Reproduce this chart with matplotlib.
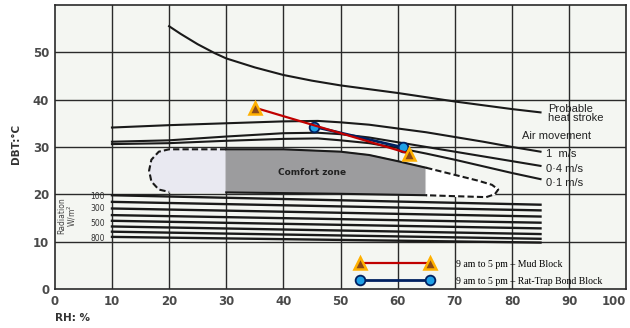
import numpy as np
import matplotlib.pyplot as plt

# axis ticks
rh_ticks = [0, 10, 20, 30, 40, 50, 60, 70, 80, 90, 100]
dbt_ticks = [0, 10, 20, 30, 40, 50]

# probable heat stroke curve
heat_rh = [20, 22, 25, 28, 30, 35, 40, 45, 50, 60, 70, 80, 85]
heat_dbt = [55.5, 53.9, 51.7, 49.8, 48.7, 46.8, 45.2, 44.0, 43.0, 41.4, 39.6, 38.0, 37.3]

# air movement curves (RH, DBT)
air_rh = [10, 20, 30, 40, 46, 50, 55, 60, 65, 70, 75, 80, 85]
air_1 = [34.1, 34.6, 35.0, 35.4, 35.5, 35.2, 34.7, 33.9, 33.1, 32.1, 31.1, 30.0, 29.0]
air_04 = [31.1, 31.4, 32.2, 32.9, 33.0, 32.7, 32.0, 31.0, 30.0, 29.0, 28.0, 27.0, 26.0]
air_01 = [30.6, 30.8, 31.3, 31.7, 31.8, 31.4, 30.8, 29.8, 28.6, 27.3, 25.9, 24.5, 23.2]

# radiation lines (W/m2), DBT at RH 10 and RH 85
rad_rh = [10, 85]
rad_left = [19.8, 18.4, 17.0, 15.6, 14.4, 13.2, 12.1, 11.0]
rad_right = [17.8, 16.6, 15.3, 14.0, 12.8, 11.6, 10.6, 9.8]
rad_labels = ["100", "300", "500", "800"]
rad_label_dbt = [19.6, 16.9, 13.9, 10.7]

# comfort zone outline
cz_left_rh = [30, 20, 18.2, 16.9, 16.5, 16.9, 18.2, 20, 30]
cz_left_dbt = [29.5, 29.5, 29.0, 27.3, 25.0, 22.7, 21.0, 20.5, 20.4]
cz_mid_rh = [30, 40, 50, 55, 60, 65, 65, 50, 30]
cz_mid_dbt = [29.5, 29.5, 29.0, 28.3, 27.0, 25.6, 19.8, 20.1, 20.4]
cz_tail_rh = [65, 70, 74, 76.5, 77.6, 77.0, 75.5, 70, 65]
cz_tail_dbt = [25.6, 24.1, 22.9, 22.0, 21.0, 20.0, 19.4, 19.6, 19.8]

# measured points
mud_rh = [35.0, 62.0]
mud_dbt = [38.3, 28.6]
rat_rh = [45.3, 60.9]
rat_dbt = [34.3, 29.9]

fig = plt.figure(figsize=(6.3, 3.28), dpi=100)
ax = fig.add_axes([0.087, 0.119, 0.907, 0.866])
ax.set_facecolor("#f4f6f2")
ax.set_xlim(0, 100)
ax.set_ylim(0, 60)

for x in rh_ticks[1:-1]:
    ax.axvline(x, color="#2a2a2a", lw=1.0, zorder=1)
for y in dbt_ticks[1:]:
    ax.axhline(y, color="#2a2a2a", lw=1.0, zorder=1)
for s in ax.spines.values():
    s.set_color("#2a2a2a")
    s.set_linewidth(1.2)

# comfort zone
ax.fill(cz_left_rh, cz_left_dbt, color="#e9e9f1", zorder=2)
ax.fill(cz_mid_rh, cz_mid_dbt, color="#9c9c9e", zorder=2)
ax.fill(cz_tail_rh, cz_tail_dbt, color="#ffffff", zorder=2)
ax.plot(cz_left_rh[:-1], cz_left_dbt[:-1], color="#1a1a1a", lw=1.5, ls=(0, (3, 1.5)), zorder=3)
ax.plot(cz_mid_rh[:6], cz_mid_dbt[:6], color="#1a1a1a", lw=1.5, zorder=3)
ax.plot(cz_mid_rh[6:], cz_mid_dbt[6:], color="#1a1a1a", lw=1.5, zorder=3)
ax.plot(cz_tail_rh, cz_tail_dbt, color="#1a1a1a", lw=1.5, ls=(0, (3, 1.5)), zorder=3)
ax.text(45, 24.5, "Comfort zone", fontsize=6.5, fontweight="bold", color="#222",
        ha="center", va="center", zorder=4)

# curves
ax.plot(heat_rh, heat_dbt, color="#1a1a1a", lw=1.5, zorder=3)
for ys in (air_1, air_04, air_01):
    ax.plot(air_rh, ys, color="#1a1a1a", lw=1.5, zorder=3)

for yl, yr in zip(rad_left, rad_right):
    ax.plot(rad_rh, [yl, yr], color="#1a1a1a", lw=1.7, zorder=3)
for lab, y in zip(rad_labels, rad_label_dbt):
    ax.text(7.5, y, lab, fontsize=5.5, color="#333", ha="center", va="center")
ax.text(2.2, 15.5, "Radiation\nW/m$^2$", fontsize=5.5, color="#444", rotation=90,
        ha="center", va="center", linespacing=0.9)

txt = dict(fontsize=8, color="#222", fontfamily="Liberation Sans")
ax.text(86.3, 37.0, "Probable\nheat stroke", va="center", linespacing=0.85, **txt)
ax.text(81.8, 32.4, "Air movement", va="center", **txt)
ax.text(86.0, 28.5, "1  m/s", va="center", **txt)
ax.text(86.0, 25.4, "0·4 m/s", va="center", **txt)
ax.text(86.0, 22.3, "0·1 m/s", va="center", **txt)

# measurements
rat, = ax.plot(rat_rh, rat_dbt, color="#002060", lw=2, marker="o", ms=7,
               mfc="#1ea0e6", mec="#002060", mew=1.3, zorder=5,
               label="9 am to 5 pm \u2013 Rat-Trap Bond Block")
mud, = ax.plot(mud_rh, mud_dbt, color="#c00000", lw=1.6, marker="^", ms=8,
               mfc="#8b4a1a", mec="#ffb000", mew=1.8, zorder=6,
               label="9 am to 5 pm \u2013 Mud Block")

ax.legend(handles=[mud, rat], loc="lower left", bbox_to_anchor=(0.514, -0.02),
          numpoints=2, handlelength=7.75, handletextpad=2.36, frameon=False,
          prop={"family": "Liberation Serif", "size": 7}, labelspacing=0.85)

ax.set_xticks(rh_ticks)
ax.set_yticks(dbt_ticks)
ax.tick_params(length=0, labelsize=8.5, colors="#4a4a4a", pad=4)
for lab in ax.get_xticklabels() + ax.get_yticklabels():
    lab.set_fontweight("bold")
ax.get_xticklabels()[-1].set_horizontalalignment("right")
ax.set_ylabel("DBT:\u00b0C", fontsize=7.5, fontweight="bold", color="#333", labelpad=10)
ax.yaxis.set_label_coords(-0.06, 0.51)
fig.text(0.087, 0.02, "RH: %", fontsize=7.5, fontweight="bold", color="#333")

fig.savefig("out.png", dpi=100)
